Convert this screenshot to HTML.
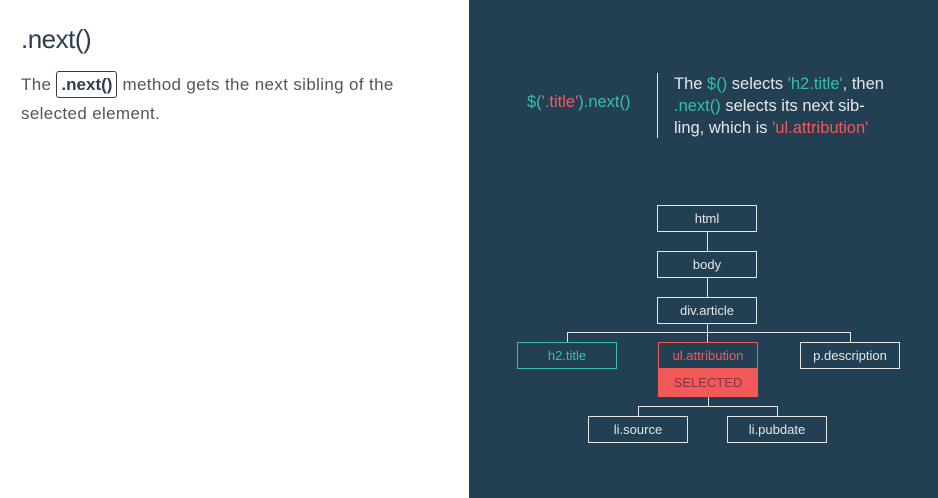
<!DOCTYPE html>
<html><head><style>
body{margin:0;width:938px;height:498px;position:relative;background:#fff;font-family:"Liberation Sans",sans-serif;overflow:hidden}
.l{position:absolute;left:0;top:0;width:469px;height:498px;background:#fff}
h1{position:absolute;left:21px;top:24px;margin:0;font-weight:normal;font-size:26px;color:#2c3e50;letter-spacing:-0.5px}
.p{position:absolute;left:21px;top:70px;width:420px;font-size:17px;line-height:29px;color:#555;letter-spacing:0.35px}
.p code{font-family:"Liberation Sans",sans-serif;font-weight:bold;color:#2c3e50;border:1px solid #2c3e50;border-radius:3px;padding:3px 4px;letter-spacing:0}
.r{position:absolute;left:469px;top:0;width:469px;height:498px;background:#223f54}
.t{position:absolute;color:#e6e6e6;font-size:16.5px}
.g{color:#35c0a5}.rd{color:#f25a5a}
.b{position:absolute;width:98px;height:25px;border:1px solid #e6e6e6;color:#e6e6e6;font-size:13px;text-align:center;line-height:25px;box-sizing:content-box;background:#223f54}
.ln{position:absolute;background:#e6e6e6}
</style></head><body>
<div class="l">
<h1>.next()</h1>
<div class="p">The <code>.next()</code> method gets the next sibling of the selected element.</div>
</div>
<div class="r"></div>
<div class="t g" style="left:527px;top:93px">$(<span class="rd">'.title'</span>).next()</div>
<div class="ln" style="left:657px;top:73px;width:1px;height:65px"></div>
<div class="t" style="left:674px;top:73px;line-height:22px;width:250px">The <span class="g">$()</span> selects <span class="g">'h2.title'</span>, then<br><span class="g">.next()</span> selects its next sib-<br>ling, which is <span class="rd">'ul.attribution'</span></div>
<div class="ln" style="left:707px;top:232px;width:1px;height:65px"></div>
<div class="ln" style="left:707px;top:324px;width:1px;height:18px"></div>
<div class="ln" style="left:567px;top:332px;width:284px;height:1px"></div>
<div class="ln" style="left:567px;top:332px;width:1px;height:10px"></div>
<div class="ln" style="left:850px;top:332px;width:1px;height:10px"></div>
<div class="ln" style="left:708px;top:396px;width:1px;height:10px"></div>
<div class="ln" style="left:638px;top:406px;width:140px;height:1px"></div>
<div class="ln" style="left:638px;top:406px;width:1px;height:10px"></div>
<div class="ln" style="left:777px;top:406px;width:1px;height:10px"></div>
<div class="b" style="left:657px;top:205px">html</div>
<div class="b" style="left:657px;top:251px">body</div>
<div class="b" style="left:657px;top:297px">div.article</div>
<div class="b" style="left:517px;top:342px;border-color:#35c0a5;color:#35c0a5">h2.title</div>
<div class="b" style="left:658px;top:342px;border-color:#f25a5a;color:#f25a5a">ul.attribution</div>
<div class="b" style="left:658px;top:369px;height:27px;border-color:#f25a5a;background:#f25a5a;color:#8a3040;line-height:27px;border-top:none">SELECTED</div>
<div class="b" style="left:800px;top:342px">p.description</div>
<div class="b" style="left:588px;top:416px">li.source</div>
<div class="b" style="left:727px;top:416px">li.pubdate</div>
</body></html>
